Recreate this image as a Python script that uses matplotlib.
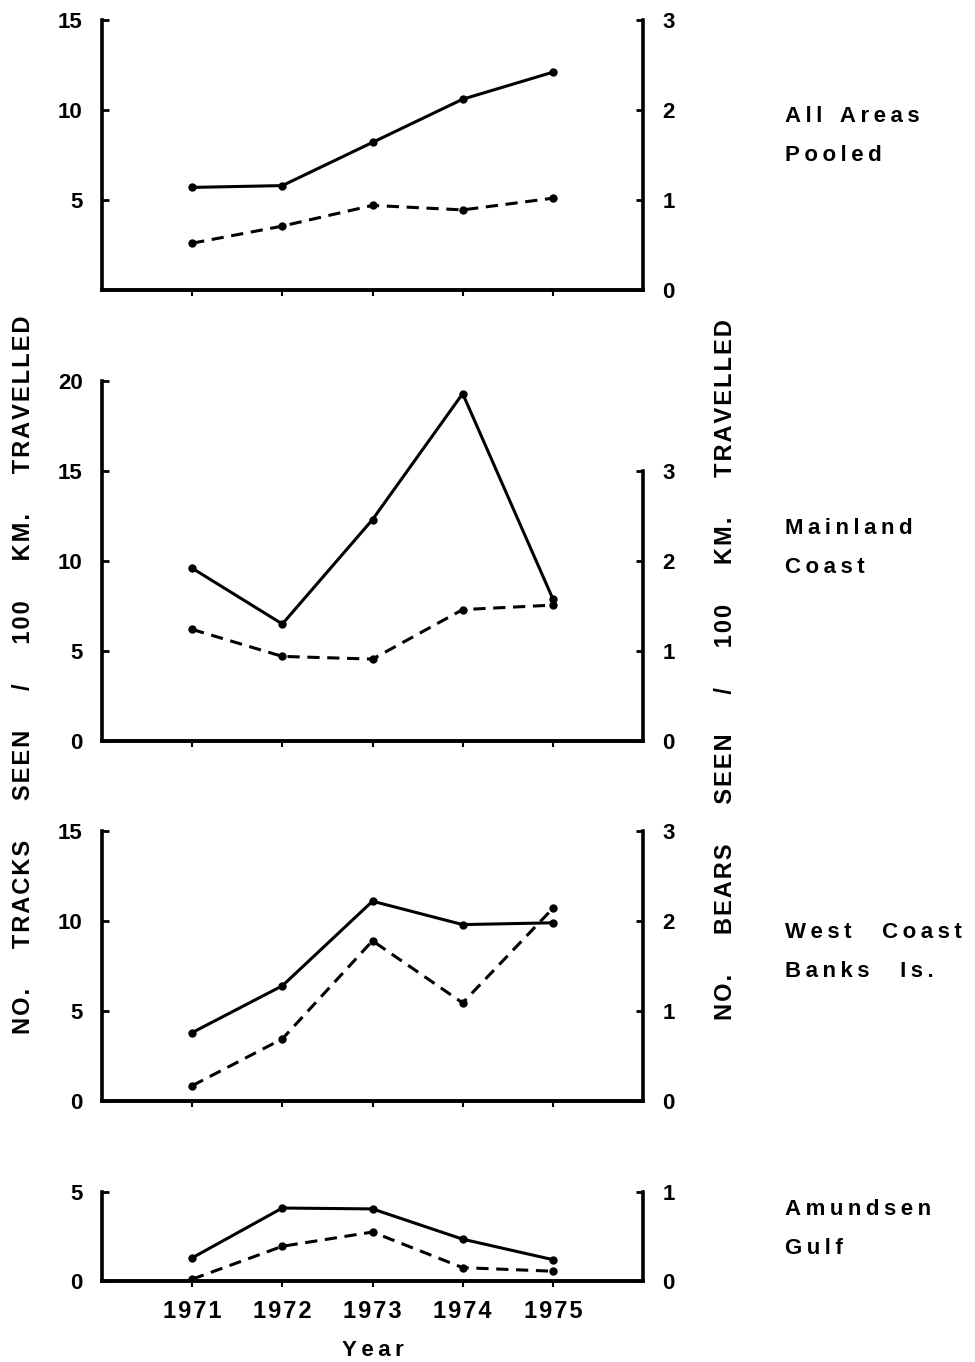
import numpy as np
import matplotlib
matplotlib.use("Agg")
import matplotlib.pyplot as plt

plt.rcParams['font.family'] = ['Liberation Sans', 'DejaVu Sans']
plt.rcParams['font.weight'] = 'bold'

years = [1971, 1972, 1973, 1974, 1975]
year_labels = ['1971', '1972', '1973', '1974', '1975']

# tracks seen / 100 km (left axis, solid), bears seen / 100 km (right axis, dashed)
tracks_all = [5.7, 5.8, 8.2, 10.6, 12.1]
bears_all = [0.52, 0.71, 0.94, 0.89, 1.02]
tracks_main = [9.6, 6.5, 12.3, 19.3, 7.9]
bears_main = [1.24, 0.94, 0.91, 1.46, 1.51]
tracks_west = [3.8, 6.4, 11.1, 9.8, 9.9]
bears_west = [0.17, 0.69, 1.78, 1.09, 2.14]
tracks_amund = [1.3, 4.1, 4.05, 2.35, 1.2]
bears_amund = [0.02, 0.39, 0.55, 0.15, 0.11]

HAIR = '\u200a'
THIN = '\u2009'


def spaced(text, gap=3, track=HAIR):
    # letter-space each word, and put `gap` blanks between words
    words = [track.join(w) for w in text.split(' ') if w]
    return (' ' * gap).join(words)


areas = [spaced("All Areas", 3, THIN) + '\n' + spaced("Pooled", 1, THIN),
         spaced("Mainland", 1, THIN) + '\n' + spaced("Coast", 1, THIN),
         spaced("West Coast", 5, THIN) + '\n' + spaced("Banks Is.", 5, THIN),
         spaced("Amundsen", 1, THIN) + '\n' + spaced("Gulf", 1, THIN)]

W, H = 975, 1362
fig = plt.figure(figsize=(W / 100, H / 100), dpi=100)

# pixel boxes (top, bottom) and axis settings for each panel
panels = [
    dict(top=20, bot=290, tr=tracks_all, br=bears_all, lmax=15, lticks=[5, 10, 15],
         rmax=3, rtop=3, rticks=[0, 1, 2, 3], area=areas[0], ay=136),
    dict(top=381, bot=741, tr=tracks_main, br=bears_main, lmax=20, lticks=[0, 5, 10, 15, 20],
         rmax=4, rtop=3, rticks=[0, 1, 2, 3], area=areas[1], ay=548),
    dict(top=831, bot=1101, tr=tracks_west, br=bears_west, lmax=15, lticks=[0, 5, 10, 15],
         rmax=3, rtop=3, rticks=[0, 1, 2, 3], area=areas[2], ay=952),
    dict(top=1192, bot=1281, tr=tracks_amund, br=bears_amund, lmax=5, lticks=[0, 5],
         rmax=1, rtop=1, rticks=[0, 1], area=areas[3], ay=1229),
]

x0, x1 = 102, 643
lw = 2.2
for i, p in enumerate(panels):
    ax = fig.add_axes([x0 / W, 1 - p['bot'] / H, (x1 - x0) / W, (p['bot'] - p['top']) / H])
    ax.patch.set_alpha(0)
    ax.set_xlim(1970, 1976)
    ax.set_ylim(0, p['lmax'])
    ax.plot(years, p['tr'], color='black', lw=lw, marker='o', ms=5, zorder=3)
    for s in ['top', 'right']:
        ax.spines[s].set_visible(False)
    ax.spines['left'].set_linewidth(2.6)
    ax.spines['bottom'].set_linewidth(2.8)
    ax.set_yticks(p['lticks'])
    ax.set_yticklabels([str(t) for t in p['lticks']])
    ax.tick_params(axis='y', direction='in', length=5, width=2, labelsize=16, pad=14)
    ax.set_xticks(years)
    ax.tick_params(axis='x', direction='out', length=4, width=1.5)
    if i == 3:
        ax.set_xticklabels([HAIR.join(y) for y in year_labels], fontsize=17, fontweight='bold')
        ax.tick_params(axis='x', pad=10)
        ax.set_xlabel(spaced('Year', 1, THIN), fontsize=16, fontweight='bold', labelpad=12)
    else:
        ax.set_xticklabels([])

    ax2 = ax.twinx()
    ax2.set_ylim(0, p['rmax'])
    ax2.plot(years, p['br'], color='black', lw=lw, ls=(0, (4, 2.5)), marker='o', ms=5, zorder=3)
    for s in ['top', 'left', 'bottom']:
        ax2.spines[s].set_visible(False)
    ax2.spines['right'].set_linewidth(2.6)
    ax2.spines['right'].set_bounds(0, p['rtop'])
    ax2.set_yticks(p['rticks'])
    ax2.set_yticklabels([str(t) for t in p['rticks']])
    ax2.tick_params(axis='y', direction='in', length=5, width=2, labelsize=16, pad=14)

    fig.text(785 / W, 1 - p['ay'] / H, p['area'], fontsize=16, fontweight='bold',
             va='center', ha='left', linespacing=2.1)

left_label = spaced("NO. TRACKS SEEN / 100 KM. TRAVELLED", 6)
right_label = spaced("NO. BEARS SEEN / 100 KM. TRAVELLED", 6)
fig.text(24 / W, 1 - 675 / H, left_label, rotation=90, fontsize=17, fontweight='bold',
         ha='center', va='center')
fig.text(725 / W, 1 - 670 / H, right_label, rotation=90, fontsize=17, fontweight='bold',
         ha='center', va='center')

fig.savefig("out.png", dpi=100, facecolor='white')
